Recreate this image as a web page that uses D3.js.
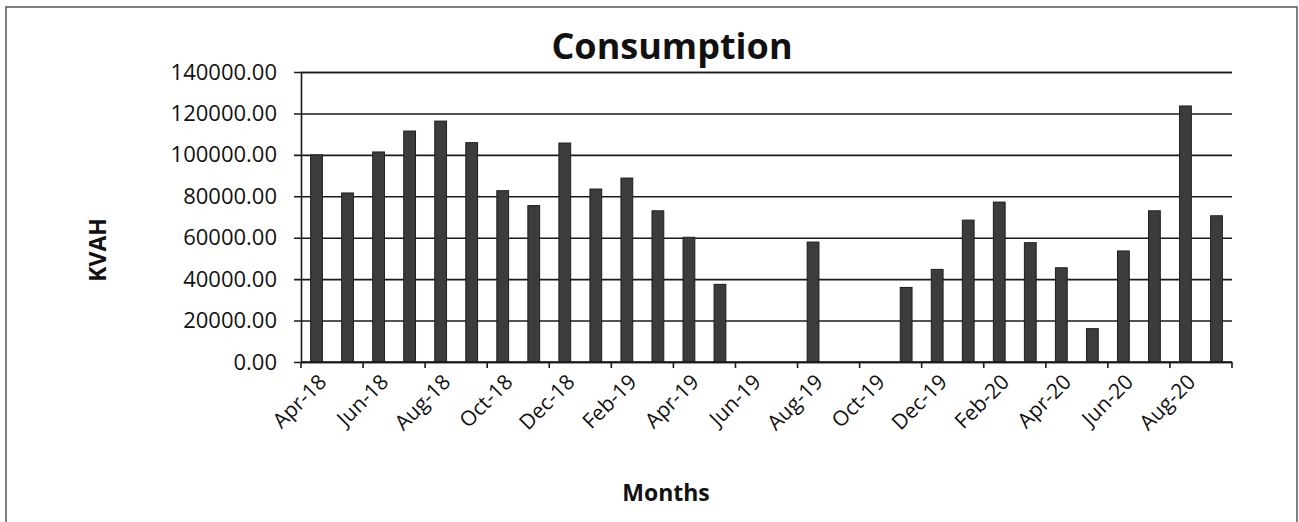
<!DOCTYPE html>
<html>
<head>
<meta charset="utf-8">
<script src="https://cdn.jsdelivr.net/npm/d3@7"></script>
<style>
  html, body { margin: 0; padding: 0; background: #ffffff; }
  svg { display: block; }
  text { font-family: "Open Sans", "DejaVu Sans", sans-serif; fill: #111; }
</style>
</head>
<body>
<svg id="chart" width="1299" height="522"></svg>
<script>
// ---- data ----
const months = ["Apr-18","May-18","Jun-18","Jul-18","Aug-18","Sep-18","Oct-18","Nov-18","Dec-18","Jan-19",
                "Feb-19","Mar-19","Apr-19","May-19","Jun-19","Jul-19","Aug-19","Sep-19","Oct-19","Nov-19",
                "Dec-19","Jan-20","Feb-20","Mar-20","Apr-20","May-20","Jun-20","Jul-20","Aug-20","Sep-20"];
const kvah = [100000, 81600, 101400, 111500, 116300, 105900, 82700, 75500, 105700, 83500,
              88800, 73000, 60200, 37500, 0, 0, 57900, 0, 0, 36000,
              44700, 68500, 77200, 57600, 45500, 16100, 53600, 73000, 123600, 70600];
const yTicks = [0, 20000, 40000, 60000, 80000, 100000, 120000, 140000];
const xTickLabels = months.filter((m, i) => i % 2 === 0);
const title = "Consumption";
const yTitle = "KVAH";
const xTitle = "Months";

// ---- layout ----
const svg = d3.select("#chart");
const plot = { left: 301, right: 1232, top: 72, bottom: 362 };

// outer frame
svg.append("path")
  .attr("d", `M6,530 L6,7 L1297,7 L1297,530`)
  .attr("fill", "none").attr("stroke", "#555").attr("stroke-width", 1.5);

const x = d3.scaleBand().domain(months).range([plot.left, plot.right]).paddingInner(0.62).paddingOuter(0.31);
const y = d3.scaleLinear().domain([0, 140000]).range([plot.bottom, plot.top]);

// gridlines + y axis
const yAxis = d3.axisLeft(y).tickValues(yTicks).tickFormat(d3.format(".2f"))
  .tickSize(-(plot.right - plot.left)).tickPadding(16);
const gy = svg.append("g").attr("transform", `translate(${plot.left},0)`).call(yAxis);
gy.select(".domain").attr("stroke", "#1a1a1a").attr("stroke-width", 1.6);
gy.selectAll(".tick line").attr("stroke", "#1a1a1a").attr("stroke-width", 1.6).attr("x1", -7);
gy.selectAll(".tick text").attr("font-size", 22).attr("fill", "#111")
  .style("font-family", '"Open Sans", sans-serif').attr("x", -24);

// bars
svg.append("g").selectAll("rect").data(months).join("rect")
  .attr("x", (d) => x(d))
  .attr("width", x.bandwidth())
  .attr("y", (d, i) => y(kvah[i]))
  .attr("height", (d, i) => y(0) - y(kvah[i]))
  .attr("fill", "#3c3c3c")
  .attr("stroke", "#1e1e1e").attr("stroke-width", 1);

// x axis (ticks at every second category boundary)
const boundary = d3.scaleLinear().domain([0, months.length]).range([plot.left, plot.right]);
const gx = svg.append("g");
gx.append("line").attr("x1", plot.left).attr("x2", plot.right)
  .attr("y1", plot.bottom).attr("y2", plot.bottom)
  .attr("stroke", "#1a1a1a").attr("stroke-width", 1.6);
gx.selectAll("line.tk").data(d3.range(0, months.length + 1, 2)).join("line").attr("class", "tk")
  .attr("x1", (d) => boundary(d)).attr("x2", (d) => boundary(d))
  .attr("y1", plot.bottom).attr("y2", plot.bottom + 6)
  .attr("stroke", "#1a1a1a").attr("stroke-width", 1.6);
gx.selectAll("text").data(xTickLabels).join("text")
  .attr("text-anchor", "end")
  .attr("font-size", 21)
  .attr("transform", (d) => `translate(${x(d) + x.bandwidth() / 2 + 6},${plot.bottom + 16}) rotate(-45)`)
  .attr("dy", "0.35em")
  .text((d) => d);

// titles
svg.append("text").attr("x", 672).attr("y", 59).attr("text-anchor", "middle")
  .attr("font-size", 36).attr("font-weight", "bold").text(title);
svg.append("text").attr("transform", "translate(106,250) rotate(-90)").attr("text-anchor", "middle")
  .attr("font-size", 23).attr("font-weight", "bold").text(yTitle);
svg.append("text").attr("x", 666).attr("y", 501).attr("text-anchor", "middle")
  .attr("font-size", 23).attr("font-weight", "bold").text(xTitle);
</script>
</body>
</html>
